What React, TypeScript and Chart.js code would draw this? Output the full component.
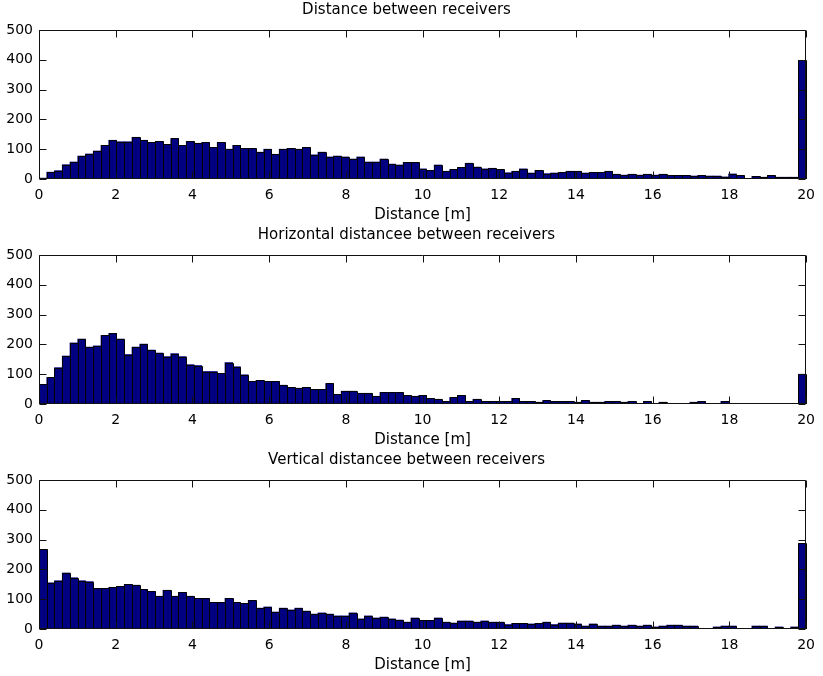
import React, { useEffect, useRef } from 'react';
import { Chart, registerables } from 'chart.js';

Chart.register(...registerables);

// ---------- data ----------
const X_MIN = 0;
const X_MAX = 20;
const BIN_COUNT = 99;
const binCenters: number[] = Array.from(
  { length: BIN_COUNT },
  (_, i) => X_MIN + ((i + 0.5) * (X_MAX - X_MIN)) / BIN_COUNT
);

const xTickStep = 2;
const yTickValues = [0, 100, 200, 300, 400, 500];
const xAxisLabel = 'Distance [m]';

const plotTitles = [
  'Distance between receivers',
  'Horizontal distancee between receivers',
  'Vertical distancee between receivers',
];

const distanceCounts = [
  3, 23, 28, 48, 57, 77, 84, 94, 113, 130,
  125, 125, 140, 130, 123, 126, 116, 136, 113, 126,
  120, 123, 106, 123, 100, 113, 103, 103, 90, 100,
  83, 100, 103, 100, 106, 81, 90, 74, 77, 74,
  67, 74, 57, 57, 67, 50, 47, 56, 56,
  34, 29, 47, 26, 32, 39, 53, 40, 34, 36,
  32, 21, 26, 34, 20, 29, 18, 20, 22, 26,
  26, 20, 22, 22, 26, 16, 13, 16, 13, 16,
  13, 16, 12, 12, 12, 10, 12, 10, 10, 7,
  17, 12, 2, 9, 6, 12, 6, 6, 6, 398,
];

const horizontalCounts = [
  66, 89, 122, 161, 205, 218, 191, 195, 230, 237,
  218, 166, 191, 201, 181, 171, 159, 169, 159, 132,
  129, 109, 109, 103, 139, 125, 98, 76, 79, 76,
  76, 63, 56, 53, 56, 49, 49, 69, 32, 43,
  43, 36, 36, 26, 39, 39, 39, 29, 26,
  29, 19, 16, 9, 22, 29, 9, 16, 9, 9,
  9, 9, 19, 9, 9, 6, 12, 9, 9, 9,
  6, 12, 6, 6, 9, 9, 6, 9, 2, 9,
  2, 6, 2, 2, 2, 6, 9, 2, 0, 9,
  2, 1, 1, 1, 1, 1, 1, 1, 1, 100,
];

const verticalCounts = [
  267, 155, 162, 188, 172, 162, 159, 136, 136, 140,
  143, 150, 147, 133, 126, 110, 130, 110, 123, 110,
  103, 103, 89, 89, 103, 89, 86, 96, 70, 74,
  57, 70, 64, 70, 60, 50, 54, 50, 44, 44,
  54, 34, 44, 37, 40, 34, 30, 23, 37,
  29, 29, 37, 23, 20, 27, 27, 23, 27, 23,
  23, 15, 19, 19, 17, 19, 23, 15, 20, 20,
  17, 10, 17, 10, 10, 13, 10, 13, 10, 13,
  7, 10, 13, 13, 10, 10, 2, 2, 7, 10,
  10, 2, 2, 10, 10, 2, 7, 2, 7, 287,
];

const seriesList = [distanceCounts, horizontalCounts, verticalCounts];

// ---------- style ----------
const FONT = "'DejaVu Sans', 'Liberation Sans', sans-serif";
const BAR_FILL = '#000080';
const BAR_EDGE = '#000000';
const AXIS_COLOR = '#111111';
const TICK_LEN = 7;
const CANVAS_W = 823;
const CANVAS_H = 225;

// crisp MATLAB-like bar outlines, taken from the bar elements Chart.js laid out
const barOutlines = {
  id: 'barOutlines',
  afterDatasetsDraw(chart: any) {
    const { ctx } = chart;
    const meta = chart.getDatasetMeta(0);
    ctx.save();
    ctx.strokeStyle = BAR_EDGE;
    ctx.lineWidth = 1;
    ctx.beginPath();
    meta.data.forEach((bar: any) => {
      const { x, y, base, width } = bar.getProps(['x', 'y', 'base', 'width'], true);
      const l = Math.round(x - width / 2) + 0.5;
      const r = Math.round(x + width / 2) + 0.5;
      const t = Math.round(y) + 0.5;
      const b = Math.round(base);
      if (b - t < 0.5) return;
      ctx.moveTo(l, b);
      ctx.lineTo(l, t);
      ctx.lineTo(r, t);
      ctx.lineTo(r, b);
    });
    ctx.stroke();
    ctx.restore();
  },
};

const matlabAxes = {
  id: 'matlabAxes',
  afterDatasetsDraw(chart: any) {
    const { ctx, chartArea } = chart;
    const xs = chart.scales.x;
    const ys = chart.scales.y;
    const L = Math.round(chartArea.left) + 0.5;
    const R = Math.round(chartArea.right) - 0.5;
    const T = Math.round(chartArea.top) + 0.5;
    const B = Math.round(chartArea.bottom) - 0.5;
    ctx.save();
    ctx.strokeStyle = AXIS_COLOR;
    ctx.lineWidth = 1;
    ctx.beginPath();
    ctx.rect(L, T, R - L, B - T);
    xs.ticks.forEach((t: any) => {
      const px = Math.round(xs.getPixelForValue(t.value)) + 0.5;
      ctx.moveTo(px, T);
      ctx.lineTo(px, T + TICK_LEN);
      ctx.moveTo(px, B);
      ctx.lineTo(px, B - TICK_LEN);
    });
    ys.ticks.forEach((t: any) => {
      const py = Math.round(ys.getPixelForValue(t.value)) + 0.5;
      ctx.moveTo(L, py);
      ctx.lineTo(L + TICK_LEN, py);
      ctx.moveTo(R, py);
      ctx.lineTo(R - TICK_LEN, py);
    });
    ctx.stroke();
    ctx.restore();
  },
};

function Histogram({ title, counts, top }: { title: string; counts: number[]; top: number }) {
  const ref = useRef<HTMLCanvasElement | null>(null);
  useEffect(() => {
    if (!ref.current) return;
    const chart = new Chart(ref.current, {
      type: 'bar',
      data: {
        datasets: [
          {
            data: counts.map((c, i) => ({ x: binCenters[i], y: c })),
            backgroundColor: BAR_FILL,
            borderWidth: 0,
            barPercentage: 1,
            categoryPercentage: 1,
          },
        ],
      },
      options: {
        animation: false,
        responsive: false,
        events: [],
        layout: { padding: { left: 0, right: 10, top: 0, bottom: 0 } },
        plugins: {
          legend: { display: false },
          tooltip: { enabled: false },
          title: {
            display: true,
            text: title,
            color: '#000',
            font: { family: FONT, size: 15, weight: 'normal', lineHeight: 1.2 },
            padding: { top: 1.5, bottom: 10.5 },
          },
        },
        scales: {
          x: {
            type: 'linear',
            min: X_MIN,
            max: X_MAX,
            offset: false,
            grid: { display: false, drawTicks: false },
            border: { display: false },
            ticks: {
              stepSize: xTickStep,
              color: '#000',
              font: { family: FONT, size: 14, lineHeight: 1.2 },
              padding: 8,
              maxRotation: 0,
              autoSkip: false,
            },
            title: {
              display: true,
              text: xAxisLabel,
              color: '#000',
              font: { family: FONT, size: 15, lineHeight: 1.2 },
              padding: { top: 0, bottom: 1 },
            },
            afterFit: (scale: any) => {
              scale.height = 46;
            },
          },
          y: {
            min: yTickValues[0],
            max: yTickValues[yTickValues.length - 1],
            grid: { display: false, drawTicks: false },
            border: { display: false },
            ticks: {
              stepSize: yTickValues[1] - yTickValues[0],
              color: '#000',
              font: { family: FONT, size: 14, lineHeight: 1.2 },
              padding: 6,
            },
            afterFit: (scale: any) => {
              scale.width = 39;
            },
          },
        },
      } as any,
      plugins: [barOutlines, matlabAxes],
    });
    return () => chart.destroy();
  }, [title, counts]);
  return (
    <canvas
      ref={ref}
      width={CANVAS_W}
      height={CANVAS_H}
      style={{ position: 'absolute', left: 0, top, display: 'block' }}
    />
  );
}

export default function App() {
  return (
    <div
      style={{
        position: 'absolute',
        left: 0,
        top: 0,
        width: CANVAS_W,
        height: 676,
        background: '#fff',
      }}
    >
      {plotTitles.map((t, i) => (
        <Histogram key={t} title={t} counts={seriesList[i]} top={i * CANVAS_H} />
      ))}
    </div>
  );
}
